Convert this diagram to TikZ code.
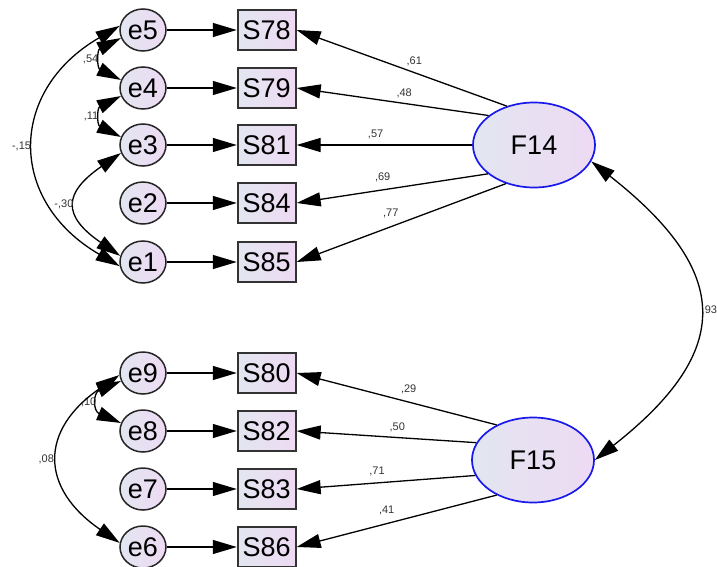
\documentclass[tikz,border=0pt]{standalone}
\usepackage{fontspec}
\setmainfont{Liberation Sans}
\usepackage{tikz}
\usetikzlibrary{arrows.meta, positioning, shapes.geometric}
\definecolor{lightside}{RGB}{226,230,240}
\definecolor{pinkside}{RGB}{238,218,243}
\definecolor{latentblue}{RGB}{25,25,235}

\begin{document}
\begin{tikzpicture}[
    x = 1pt, y = -1pt, % pixel units, y going down
    path/.style = {-{Triangle[length=24pt, width=14pt]}}, % one-headed
    covar/.style = {{Triangle[length=24pt, width=14pt]}-{Triangle[length=24pt, width=14pt]}}, % two-headed
    line width = 1.3pt
]

\tikzstyle{resid}=[
    ellipse,
    draw = black!85,
    line width = 1.5pt,
    minimum width = 46pt,
    minimum height = 42pt,
    inner sep = 0pt,
    left color = lightside,
    right color = pinkside,
    font = \fontsize{27}{27}\selectfont
]
\tikzstyle{item}=[
    rectangle,
    draw = black!80,
    line width = 1.9pt,
    minimum width = 58pt,
    minimum height = 40pt,
    inner sep = 0pt,
    left color = lightside,
    right color = pinkside,
    font = \fontsize{27}{27}\selectfont
]
\tikzstyle{factor}=[
    ellipse,
    draw = latentblue,
    line width = 1.7pt,
    minimum width = 122pt,
    minimum height = 85pt,
    left color = lightside,
    right color = pinkside,
    font = \fontsize{27}{27}\selectfont
]
\tikzstyle{coef}=[font = \fontsize{11}{11}\selectfont, text = black!80, inner sep = 1pt]

\useasboundingbox (0,0) rectangle (717,567);

% first factor
\node[resid] (e5) at (143,30) {e5};
\node[resid] (e4) at (143,88) {e4};
\node[resid] (e3) at (143,145) {e3};
\node[resid] (e2) at (143,203) {e2};
\node[resid] (e1) at (143,262) {e1};
\node[item] (S78) [right=70pt of e5] {S78};
\node[item] (S79) [right=70pt of e4] {S79};
\node[item] (S81) [right=70pt of e3] {S81};
\node[item] (S84) [right=70pt of e2] {S84};
\node[item] (S85) [right=70pt of e1] {S85};
\node[factor] (F14) at (534,145) {F14};

% second factor
\node[resid] (e9) at (143,373) {e9};
\node[resid] (e8) at (143,431) {e8};
\node[resid] (e7) at (143,489) {e7};
\node[resid] (e6) at (143,547) {e6};
\node[item] (S80) [right=70pt of e9] {S80};
\node[item] (S82) [right=70pt of e8] {S82};
\node[item] (S83) [right=70pt of e7] {S83};
\node[item] (S86) [right=70pt of e6] {S86};
\node[factor] (F15) at (533,460) {F15};

\draw[path] (e5) -- (S78);
\draw[path] (e4) -- (S79);
\draw[path] (e3) -- (S81);
\draw[path] (e2) -- (S84);
\draw[path] (e1) -- (S85);
\draw[path] (e9) -- (S80);
\draw[path] (e8) -- (S82);
\draw[path] (e7) -- (S83);
\draw[path] (e6) -- (S86);

\draw[path] (F14.125) -- node[coef, pos=0.44, above=5pt] {,61} (S78.east);
\draw[path] (F14.147) -- node[coef, pos=0.44, above=4pt] {,48} (S79.east);
\draw[path] (F14.west) -- node[coef, pos=0.55, above=4pt] {,57} (S81.east);
\draw[path] (F14.212) -- node[coef, pos=0.55, above=6pt] {,69} (S84.east);
\draw[path] (F14.234) -- node[coef, pos=0.55, above=7pt] {,77} (S85.east);

\draw[path] (F15.136) -- node[coef, pos=0.44, above=7pt] {,29} (S80.east);
\draw[path] (F15.163) -- node[coef, pos=0.44, above=4pt] {,50} (S82.east);
\draw[path] (F15.195) -- node[coef, pos=0.55, above=5pt] {,71} (S83.east);
\draw[path] (F15.224) -- node[coef, pos=0.55, above=7pt] {,41} (S86.east);

% covariances
\draw[covar] (F14.344) .. controls +(140,110) and +(140,-110) .. node[coef, pos=0.5, right=2pt] {,93} (F15.east);
\draw[covar] (e5.170) .. controls +(-112,65) and +(-112,-65) .. node[coef, pos=0.5, left=3pt] {-,15} (e1.190);
\draw[covar] (e5.200) .. controls +(-24,12) and +(-24,-12) .. node[coef, pos=0.5, left=3pt] {,54} (e4.160);
\draw[covar] (e4.200) .. controls +(-24,12) and +(-24,-12) .. node[coef, pos=0.5, left=3pt] {,11} (e3.160);
\draw[covar] (e3.200) .. controls +(-58,40) and +(-58,-40) .. node[coef, pos=0.5, left=2pt] {-,30} (e1.165);
\draw[covar] (e9.200) .. controls +(-28,12) and +(-28,-12) .. node[coef, pos=0.5, left=2pt] {,10} (e8.160);
\draw[covar] (e9.185) .. controls +(-80,55) and +(-80,-55) .. node[coef, pos=0.5, left=4pt] {,08} (e6.170);

\end{tikzpicture}
\end{document}
